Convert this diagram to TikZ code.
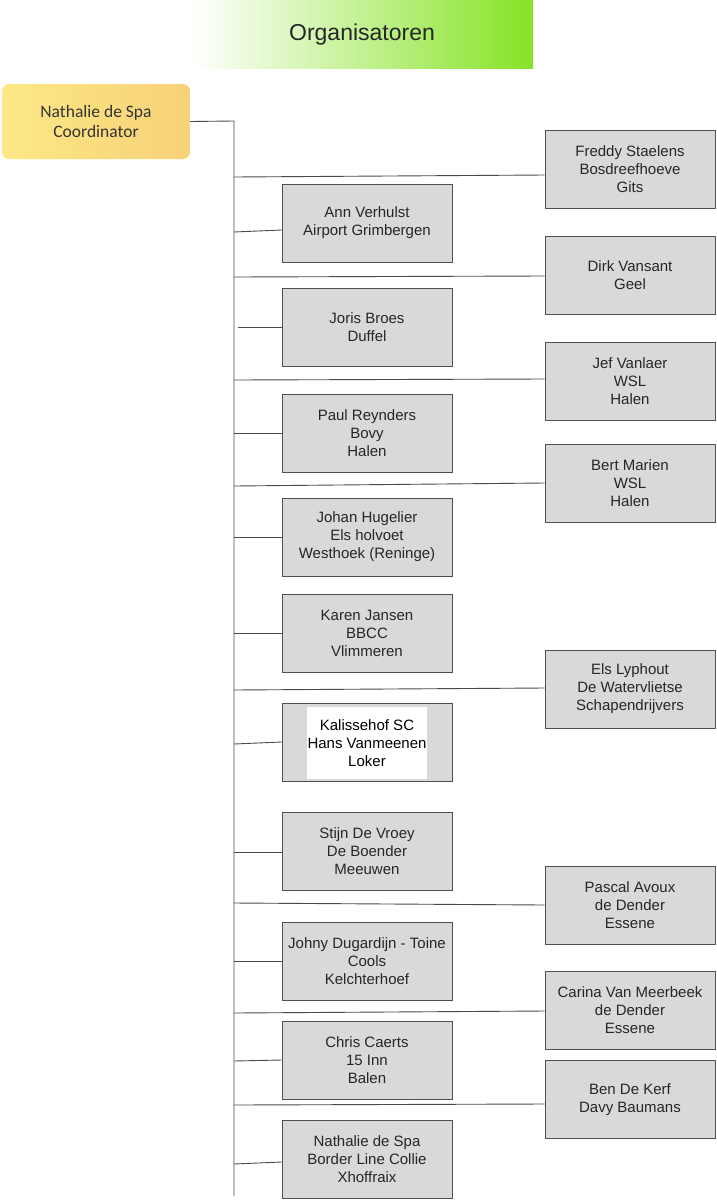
\documentclass[tikz,border=0pt]{standalone}
\usepackage{fontspec}
\setmainfont{Liberation Sans}
\newfontfamily\calfont{Carlito}
\definecolor{boxgray}{HTML}{D9D9D9}
\definecolor{boxline}{HTML}{505050}
\definecolor{trunkline}{HTML}{4A4A4A}
\definecolor{titlegreen}{HTML}{86E326}
\definecolor{coordA}{HTML}{FCE886}
\definecolor{coordB}{HTML}{F8D178}
\tikzset{
  orgbox/.style={draw=boxline,fill=boxgray,line width=0.9pt,minimum width=170pt,
    minimum height=78pt,align=center,inner sep=1pt,font=\fontsize{15}{18}\selectfont,text=black!85},
  link/.style={trunkline,line width=0.9pt},
}
\begin{document}
\begin{tikzpicture}[x=1pt,y=-1pt]
  \useasboundingbox (0,0) rectangle (716,1200);
  % title bar
  \shade[left color=white,right color=titlegreen,draw=none] (192,0) rectangle (533,68);
  \node[font=\fontsize{23}{26}\selectfont,text=black!85] (title) at (362,35) {Organisatoren};
  % coordinator
  \node[rounded corners=7pt,left color=coordA,right color=coordB,minimum width=188pt,
    minimum height=75pt,align=center,font=\calfont\fontsize{17.5}{20}\selectfont,text=black!80]
    (coord) at (96,121.5) {Nathalie de Spa\\Coordinator};
  \coordinate (ttop) at (234,121);
  \coordinate (tbot) at (234,1196);
  \draw[link] (coord.east) -- (ttop) -- (tbot);
  % right column
  \node[orgbox] (freddy) at (630,169) {Freddy Staelens\\Bosdreefhoeve\\Gits};
  \node[orgbox] (dirk) at (630,275) {Dirk Vansant\\Geel};
  \node[orgbox] (jef) at (630,381) {Jef Vanlaer\\WSL\\Halen};
  \node[orgbox] (bert) at (630,483) {Bert Marien\\WSL\\Halen};
  \node[orgbox] (els) at (630,689) {Els Lyphout\\De Watervlietse\\Schapendrijvers};
  \node[orgbox] (pascal) at (630,905) {Pascal Avoux\\de Dender\\Essene};
  \node[orgbox] (carina) at (630,1010) {Carina Van Meerbeek\\de Dender\\Essene};
  \node[orgbox] (ben) at (630,1099.5) {Ben De Kerf\\Davy Baumans};
  % left column
  \node[orgbox] (ann) at (367,223) {Ann Verhulst\\Airport Grimbergen};
  \node[orgbox] (joris) at (367,327.5) {Joris Broes\\Duffel};
  \node[orgbox] (paul) at (367,433.5) {Paul Reynders\\Bovy\\Halen};
  \node[orgbox] (johan) at (367,537) {Johan Hugelier\\Els holvoet\\Westhoek (Reninge)};
  \node[orgbox] (karen) at (367,633.5) {Karen Jansen\\BBCC\\Vlimmeren};
  \node[orgbox] (kal) at (367,742.5) {};
  \node[fill=white,minimum width=120pt,minimum height=72pt,align=center,inner sep=0pt,
    font=\fontsize{15}{18}\selectfont,text=black] (kaltxt) at (367,743) {Kalissehof SC\\Hans Vanmeenen\\Loker};
  \node[orgbox] (stijn) at (367,851.5) {Stijn De Vroey\\De Boender\\Meeuwen};
  \node[orgbox] (johny) at (367,961) {Johny Dugardijn - Toine\\Cools\\Kelchterhoef};
  \node[orgbox] (chris) at (367,1060) {Chris Caerts\\15 Inn\\Balen};
  \node[orgbox] (nath) at (367,1159.5) {Nathalie de Spa\\Border Line Collie\\Xhoffraix};
  % branches off the trunk
  \draw[link] (ttop |- 0,177) -- (freddy.west |- 0,175);
  \draw[link] (ttop |- 0,277) -- (dirk.west |- 0,276);
  \draw[link] (ttop |- 0,380) -- (jef.west |- 0,379);
  \draw[link] (ttop |- 0,486) -- (bert.west |- 0,483);
  \draw[link] (ttop |- 0,690) -- (els.west |- 0,688);
  \draw[link] (ttop |- 0,903) -- (pascal.west |- 0,905);
  \draw[link] (ttop |- 0,1013) -- (carina.west |- 0,1011);
  \draw[link] (ttop |- 0,1105) -- (ben.west |- 0,1104);
  \draw[link] (ttop |- 0,232) -- (ann.west |- 0,230);
  \draw[link] (238,327) -- (joris.west |- 0,327);
  \draw[link] (ttop |- 0,433) -- (paul.west |- 0,433);
  \draw[link] (ttop |- 0,537) -- (johan.west |- 0,537);
  \draw[link] (ttop |- 0,633) -- (karen.west |- 0,633);
  \draw[link] (ttop |- 0,744) -- (kal.west |- 0,742);
  \draw[link] (ttop |- 0,852) -- (stijn.west |- 0,852);
  \draw[link] (ttop |- 0,961) -- (johny.west |- 0,961);
  \draw[link] (ttop |- 0,1061) -- (chris.west |- 0,1060);
  \draw[link] (ttop |- 0,1164) -- (nath.west |- 0,1162);
\end{tikzpicture}
\end{document}
